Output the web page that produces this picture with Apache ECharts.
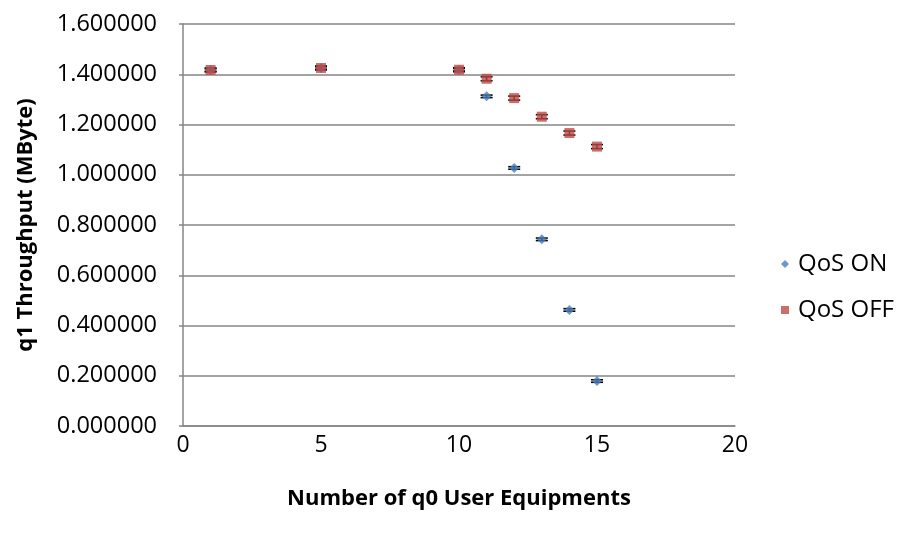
<!DOCTYPE html>
<html>
<head>
<meta charset="utf-8">
<script src="https://cdn.jsdelivr.net/npm/echarts@6/dist/echarts.min.js"></script>
<style>
  html, body { margin: 0; padding: 0; background: #fff; }
  #chart { width: 905px; height: 533px; }
</style>
</head>
<body>
<div id="chart"></div>
<script>
// Number of q0 user equipments
const ueCounts = [1, 5, 10, 11, 12, 13, 14, 15];
// q1 throughput (MByte) with QoS enabled / disabled
const qosOn  = [1.417, 1.425, 1.418, 1.312, 1.027, 0.743, 0.462, 0.179];
const qosOff = [1.417, 1.425, 1.418, 1.382, 1.305, 1.231, 1.166, 1.112];
// Half-width of the error bars
const errOn  = [0.005, 0.005, 0.005, 0.005, 0.005, 0.005, 0.005, 0.005];
const errOff = [0.008, 0.008, 0.008, 0.008, 0.008, 0.008, 0.008, 0.008];
// Axis ticks
const xTicks = [0, 5, 10, 15, 20];
const yTicks = [0, 0.2, 0.4, 0.6, 0.8, 1.0, 1.2, 1.4, 1.6];

const FONT = '"Open Sans", "Noto Sans", sans-serif';

function pairs(xs, ys) { return xs.map((x, i) => [x, ys[i]]); }

function errorBars(xs, ys, errs) {
  return xs.map((x, i) => [x, ys[i] - errs[i], ys[i] + errs[i]]);
}

// Vertical error bar with short horizontal caps
function renderError(params, api) {
  const x = api.value(0);
  const lo = api.coord([x, api.value(1)]);
  const hi = api.coord([x, api.value(2)]);
  const half = 6;
  const style = { stroke: '#000', lineWidth: 1.6 };
  return {
    type: 'group',
    children: [
      { type: 'line', shape: { x1: lo[0], y1: lo[1], x2: hi[0], y2: hi[1] }, style },
      { type: 'line', shape: { x1: lo[0] - half, y1: lo[1], x2: lo[0] + half, y2: lo[1] }, style },
      { type: 'line', shape: { x1: hi[0] - half, y1: hi[1], x2: hi[0] + half, y2: hi[1] }, style }
    ]
  };
}

const chart = echarts.init(document.getElementById('chart'), null, { renderer: 'canvas' });

chart.setOption({
  animation: false,
  backgroundColor: '#fff',
  textStyle: { fontFamily: FONT },
  grid: { left: 183, right: 170, top: 24, bottom: 107, containLabel: false },
  legend: {
    orient: 'vertical',
    left: 776,
    top: 247,
    itemGap: 22,
    itemWidth: 8,
    itemHeight: 8,
    textStyle: { fontFamily: FONT, fontSize: 24, color: '#000', padding: [0, 0, 0, 4] },
    data: [
      { name: 'QoS ON', icon: 'diamond' },
      { name: 'QoS OFF', icon: 'rect' }
    ]
  },
  xAxis: {
    type: 'value',
    min: xTicks[0],
    max: xTicks[xTicks.length - 1],
    interval: 5,
    name: 'Number of q0 User Equipments',
    nameLocation: 'middle',
    nameGap: 62,
    nameTextStyle: { fontFamily: FONT, fontSize: 22, fontWeight: 'bold', color: '#000' },
    axisLine: { show: true, lineStyle: { color: '#868686', width: 1.5 } },
    axisTick: { show: false },
    axisLabel: { fontFamily: FONT, fontSize: 23, color: '#000', margin: 8 },
    splitLine: { show: false }
  },
  yAxis: {
    type: 'value',
    min: yTicks[0],
    max: yTicks[yTicks.length - 1],
    interval: 0.2,
    name: 'q1 Throughput (MByte)',
    nameLocation: 'middle',
    nameGap: 146,
    nameRotate: 90,
    nameTextStyle: { fontFamily: FONT, fontSize: 22, fontWeight: 'bold', color: '#000' },
    axisLine: { show: true, lineStyle: { color: '#868686', width: 1.5 } },
    axisTick: { show: true, inside: false, length: 4, lineStyle: { color: '#868686', width: 1.5 } },
    axisLabel: {
      fontFamily: FONT, fontSize: 23.5, color: '#000', margin: 26,
      formatter: v => v.toFixed(6)
    },
    splitLine: { show: true, lineStyle: { color: '#868686', width: 1.5 } }
  },
  series: [
    {
      name: 'errOn',
      type: 'custom',
      renderItem: renderError,
      data: errorBars(ueCounts, qosOn, errOn),
      encode: { x: 0, y: [1, 2] },
      z: 2,
      silent: true
    },
    {
      name: 'errOff',
      type: 'custom',
      renderItem: renderError,
      data: errorBars(ueCounts, qosOff, errOff),
      encode: { x: 0, y: [1, 2] },
      z: 2,
      silent: true
    },
    {
      name: 'QoS ON',
      type: 'scatter',
      symbol: 'diamond',
      symbolSize: 10,
      itemStyle: { color: '#4A7EBB' },
      data: pairs(ueCounts, qosOn),
      z: 3
    },
    {
      name: 'QoS OFF',
      type: 'scatter',
      symbol: 'rect',
      symbolSize: 10,
      itemStyle: { color: '#BE4B48' },
      data: pairs(ueCounts, qosOff),
      z: 4
    }
  ]
});
</script>
</body>
</html>
